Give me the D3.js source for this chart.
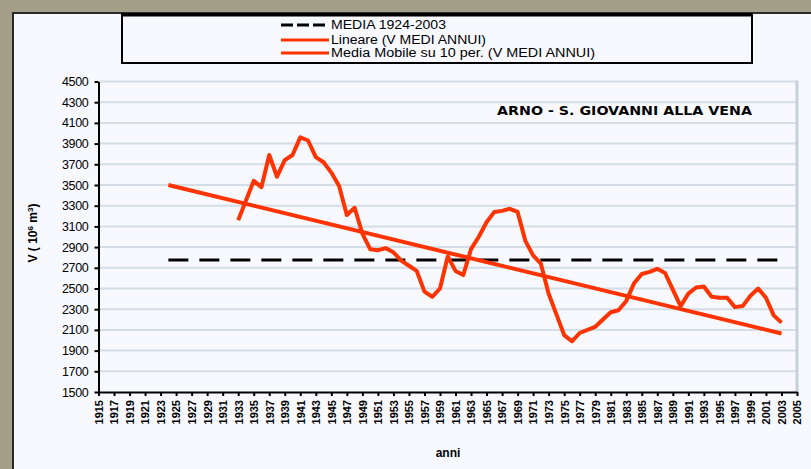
<!DOCTYPE html>
<html>
<head>
<meta charset="utf-8">
<script src="https://d3js.org/d3.v7.min.js"></script>
<style>
  body { margin: 0; background: #a39f88; }
  svg { display: block; }
  text { font-family: "Liberation Sans", Arial, sans-serif; fill: #000; }
</style>
</head>
<body>
<script>
var width = 811;
var height = 469;

// series
var mediaYears = [1924, 2003];
var mediaValues = [2775, 2775];

var trendYears = [1924, 2003];
var trendValues = [3500, 2065];

var mobileYears = d3.range(1933, 2004);
var mobileValues = [
  3160, 3350, 3540, 3480, 3790, 3580, 3740, 3790, 3960, 3930,
  3770, 3720, 3620, 3490, 3210, 3280, 3030, 2880, 2870, 2890,
  2850, 2770, 2720, 2670, 2470, 2420, 2500, 2810, 2670, 2630,
  2880, 3000, 3140, 3240, 3250, 3270, 3240, 2960, 2820, 2740,
  2450, 2250, 2050, 1990, 2070, 2100, 2130, 2200, 2270, 2290,
  2380, 2550, 2640, 2660, 2690, 2650, 2490, 2330, 2450, 2510,
  2520, 2420, 2410, 2410, 2320, 2330, 2430, 2500, 2410, 2240,
  2170
];

var xTicks = d3.range(1915, 2006, 2);
var yTicks = d3.range(1500, 4501, 200);

var legendLabels = [
  'MEDIA 1924-2003',
  'Lineare (V MEDI ANNUI)',
  'Media Mobile su 10 per. (V MEDI ANNUI)'
];
var chartTitle = 'ARNO - S. GIOVANNI ALLA VENA';

var plot = { left: 98.5, right: 797, top: 81.5, bottom: 392 };
var red = '#ff3300';

var svg = d3.select('body')
            .append('svg')
            .attr('width', width)
            .attr('height', height);

// chart panel
svg.append('rect')
    .attr('x', 13).attr('y', 13)
    .attr('width', width).attr('height', height)
    .attr('fill', '#f8f9fe')
    .attr('stroke', '#2a2a2a')
    .attr('stroke-width', 2);

var xScale = d3.scaleLinear()
                .domain([1915, 2005])
                .range([plot.left, plot.right]);

var yScale = d3.scaleLinear()
                .domain([1500, 4500])
                .range([plot.bottom, plot.top]);

// gridlines
svg.append('g')
    .selectAll('line')
    .data(yTicks.slice(1))
    .enter()
    .append('line')
    .attr('x1', plot.left)
    .attr('x2', plot.right)
    .attr('y1', function (d) { return yScale(d); })
    .attr('y2', function (d) { return yScale(d); })
    .attr('stroke', '#d2dde6')
    .attr('stroke-width', 2);

// plot right border
svg.append('line')
    .attr('x1', plot.right).attr('x2', plot.right)
    .attr('y1', plot.top - 1).attr('y2', plot.bottom)
    .attr('stroke', '#c3d1db')
    .attr('stroke-width', 3);

// axes
var yAxis = svg.append('g')
    .attr('transform', `translate(${plot.left},0)`)
    .call(d3.axisLeft(yScale).tickValues(yTicks).tickFormat(d3.format('d'))
            .tickSize(4).tickSizeOuter(0).tickPadding(6));
yAxis.select('.domain').attr('stroke', '#000').attr('stroke-width', 2);
yAxis.selectAll('.tick line').attr('stroke', '#000').attr('stroke-width', 2);
yAxis.selectAll('text')
    .style('font-size', '12.5px')
    .style('letter-spacing', '-0.3px');

var xAxis = svg.append('g')
    .attr('transform', `translate(0,${plot.bottom})`)
    .call(d3.axisBottom(xScale).tickValues(xTicks).tickFormat(d3.format('d'))
            .tickSize(4).tickSizeOuter(0));
xAxis.select('.domain').attr('stroke', '#000').attr('stroke-width', 2);
xAxis.selectAll('.tick line').attr('stroke', '#000').attr('stroke-width', 2);
xAxis.selectAll('text')
    .attr('transform', 'rotate(-90)')
    .attr('x', -8)
    .attr('y', 0)
    .attr('dy', '0.35em')
    .style('text-anchor', 'end')
    .style('font-size', '11px')
    .style('font-weight', 'bold');

// lines
var line = d3.line()
    .x(function (d) { return xScale(d[0]); })
    .y(function (d) { return yScale(d[1]); });

svg.append('path')
    .datum(d3.zip(mediaYears, mediaValues))
    .attr('d', line)
    .attr('fill', 'none')
    .attr('stroke', '#000')
    .attr('stroke-width', 3)
    .attr('stroke-dasharray', '20,11');

svg.append('path')
    .datum(d3.zip(trendYears, trendValues))
    .attr('d', line)
    .attr('fill', 'none')
    .attr('stroke', red)
    .attr('stroke-width', 4);

svg.append('path')
    .datum(d3.zip(mobileYears, mobileValues))
    .attr('d', line)
    .attr('fill', 'none')
    .attr('stroke', red)
    .attr('stroke-width', 4)
    .attr('stroke-linejoin', 'round');

// title
svg.append('text')
    .attr('x', 497)
    .attr('y', 115)
    .attr('textLength', 255)
    .attr('lengthAdjust', 'spacingAndGlyphs')
    .style('font-family', '"DejaVu Sans", sans-serif')
    .style('font-size', '12px')
    .style('font-weight', 'bold')
    .text(chartTitle);

// axis titles
var yTitle = svg.append('text')
    .attr('transform', 'translate(37,233) rotate(-90)')
    .style('text-anchor', 'middle')
    .style('font-size', '12px')
    .style('font-weight', 'bold');
yTitle.append('tspan').text('V ( 10');
yTitle.append('tspan').attr('baseline-shift', 'super').style('font-size', '8px').text('6');
yTitle.append('tspan').text(' m');
yTitle.append('tspan').attr('baseline-shift', 'super').style('font-size', '8px').text('3');
yTitle.append('tspan').text(')');

svg.append('text')
    .attr('x', 448)
    .attr('y', 457)
    .style('text-anchor', 'middle')
    .style('font-size', '12px')
    .style('font-weight', 'bold')
    .text('anni');

// legend
var legend = svg.append('g');
legend.append('rect')
    .attr('x', 122).attr('y', 14)
    .attr('width', 630).attr('height', 49)
    .attr('fill', '#f8f9fe')
    .attr('stroke', '#000')
    .attr('stroke-width', 2);
legend.append('line')
    .attr('x1', 122).attr('x2', 752)
    .attr('y1', 15).attr('y2', 15)
    .attr('stroke', '#000')
    .attr('stroke-width', 3);

var legendStyles = [
  { color: '#000', dash: '12,4' },
  { color: red, dash: null },
  { color: red, dash: null }
];
var legendWidths = [115, 155, 264];
var legendRows = [25, 40, 53];

legendLabels.forEach(function (label, i) {
  legend.append('line')
      .attr('x1', 281).attr('x2', 329)
      .attr('y1', legendRows[i]).attr('y2', legendRows[i])
      .attr('stroke', legendStyles[i].color)
      .attr('stroke-width', 3)
      .attr('stroke-dasharray', legendStyles[i].dash);
  legend.append('text')
      .attr('x', 331)
      .attr('y', legendRows[i])
      .attr('dy', '0.35em')
      .attr('textLength', legendWidths[i])
      .attr('lengthAdjust', 'spacingAndGlyphs')
      .style('font-size', '12px')
      .text(label);
});
</script>
</body>
</html>
